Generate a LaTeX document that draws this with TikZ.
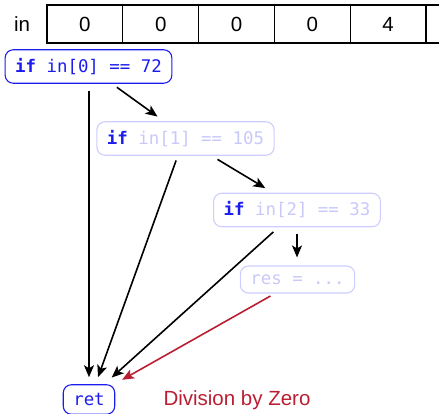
\documentclass[tikz,border=0pt]{standalone}
\usepackage{fontspec}
\setmainfont{Liberation Sans}
\newfontfamily\codefont{DejaVu Sans Mono}
\usetikzlibrary{arrows.meta}

\definecolor{codeblue}{RGB}{28,28,238}
\definecolor{faded}{RGB}{200,200,250}
\definecolor{fadedline}{RGB}{205,205,255}
\definecolor{errred}{RGB}{185,30,50}

\tikzset{
  cell/.style={draw=black, line width=1.1pt, minimum width=75.8pt, minimum height=38pt,
    inner sep=0pt, font=\fontsize{20.5}{24}\selectfont},
  codebox/.style={rounded corners=8pt, line width=1.1pt, inner xsep=10pt, inner ysep=8.5pt,
    font=\codefont\fontsize{17.4}{20}\selectfont},
  live/.style={codebox, draw=codeblue, text=codeblue},
  dead/.style={codebox, draw=fadedline, text=faded},
  arr/.style={-{Stealth[length=12pt,width=10pt,inset=3pt]}, line width=1.6pt},
  errarr/.style={arr, draw=errred},
}
\newcommand{\kw}[1]{\textcolor{codeblue}{\textbf{#1}}}

\begin{document}
\begin{tikzpicture}[x=1pt, y=-1pt]
  \useasboundingbox (0,0) rectangle (439,414);
  \clip (0,0) rectangle (439,414);

  % input array
  \node[font=\fontsize{20.5}{24}\selectfont] (inlabel) at (22,24) {in};
  \foreach \v [count=\i] in {0,0,0,0,4,{}} {
    \node[cell] (cell\i) at ({47+75.8*(\i-0.5)},24) {\v};
  }

  % branch conditions
  \node[live] (c0) at (88.5,66.5) {\kw{if} in[0] == 72};
  \node[dead] (c1) at (185.5,138.5) {\kw{if} in[1] == 105};
  \node[dead] (c2) at (297,210) {\kw{if} in[2] == 33};
  \node[dead] (res) at (297.5,279.5) {res = ...};
  \node[live] (ret) at (89,399.5) {ret};
  \node[text=errred, font=\fontsize{20.5}{24}\selectfont] (err) at (237,400) {Division by Zero};

  % control flow
  \draw[arr, shorten <=7pt, shorten >=7pt] (c0.south -| ret.north) -- (ret.north);
  \draw[arr, shorten <=6pt, shorten >=8pt] ([xshift=23.5pt]c0.south) -- ([xshift=-21.5pt]c1.north);
  \draw[arr, shorten <=7pt, shorten >=9pt] ([xshift=26pt]c1.south) -- ([xshift=-24pt]c2.north);
  \draw[arr, shorten <=7pt, shorten >=8pt] (c2.south) -- (c2.south |- res.north);
  \draw[arr, shorten <=5pt, shorten >=7.5pt] ([xshift=-7.7pt]c1.south) -- ([xshift=6.5pt]ret.north);
  \draw[arr, shorten <=7pt, shorten >=10pt] ([xshift=-18.5pt]c2.south) -- ([xshift=15.3pt]ret.north);
  \draw[errarr, shorten <=5pt, shorten >=9pt] ([xshift=-22.7pt]res.south) -- ([xshift=-1pt]ret.north east);
\end{tikzpicture}
\end{document}
